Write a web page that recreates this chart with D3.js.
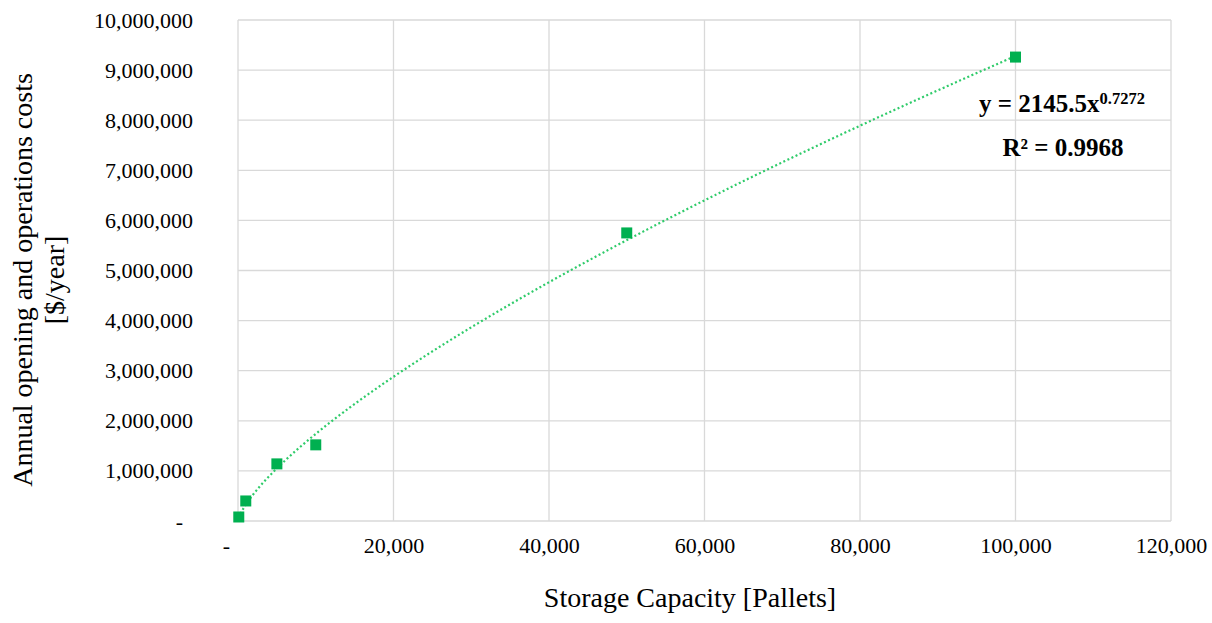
<!DOCTYPE html>
<html>
<head>
<meta charset="utf-8">
<script src="https://cdn.jsdelivr.net/npm/d3@7"></script>
<style>
  body { margin: 0; background: #fff; }
  svg text { font-family: 'Liberation Serif', 'Times New Roman', serif !important; fill: #000; }
</style>
</head>
<body>
<svg width="1212" height="623"></svg>
<script>
// Data
const capacity = [100, 1000, 5000, 10000, 50000, 100000]
const cost = [80000, 400000, 1140000, 1520000, 5750000, 9260000]
const xTicks = [0, 20000, 40000, 60000, 80000, 100000, 120000]
const yTicks = [0, 1e6, 2e6, 3e6, 4e6, 5e6, 6e6, 7e6, 8e6, 9e6, 1e7]
const fitA = 2145.5
const fitB = 0.7272
const fitR2 = '0.9968'

let svg = d3.select('svg')
const margin = { left: 238, right: 41, top: 20, bottom: 102 }
const width = +svg.attr('width')
const height = +svg.attr('height')

const x = d3.scaleLinear().domain([0, 120000]).range([margin.left, width - margin.right])
const y = d3.scaleLinear().domain([0, 1e7]).range([height - margin.bottom, margin.top])

const fmt = d => (d === 0 ? '-' : d3.format(',')(d))
const serif = "'Liberation Serif', 'Times New Roman', serif"

// Gridlines
svg.append('g')
  .selectAll('line.h')
  .data(yTicks)
  .enter()
  .append('line')
  .attr('x1', x(0))
  .attr('x2', x(120000))
  .attr('y1', d => y(d))
  .attr('y2', d => y(d))
  .attr('stroke', '#d9d9d9')
  .attr('stroke-width', 1.3)

svg.append('g')
  .selectAll('line.v')
  .data(xTicks)
  .enter()
  .append('line')
  .attr('x1', d => x(d))
  .attr('x2', d => x(d))
  .attr('y1', y(0))
  .attr('y2', y(1e7))
  .attr('stroke', '#d9d9d9')
  .attr('stroke-width', 1.3)

// Axes (labels only)
const xAxis = d3.axisBottom(x).tickValues(xTicks).tickFormat(fmt).tickSize(0).tickPadding(16)
const gx = svg.append('g')
  .attr('transform', `translate(0, ${y(0)})`)
  .call(xAxis)
  .attr('font-family', serif)
  .attr('font-size', 22)
gx.select('.domain').remove()
gx.selectAll('text')
  .attr('dx', d => (d === 0 ? '-12' : '0'))

const yAxis = d3.axisLeft(y).tickValues(yTicks).tickFormat(fmt).tickSize(0).tickPadding(45)
const gy = svg.append('g')
  .attr('transform', `translate(${x(0)}, 0)`)
  .call(yAxis)
  .attr('font-family', serif)
  .attr('font-size', 22)
gy.select('.domain').remove()
gy.selectAll('text')
  .attr('dx', d => (d === 0 ? '-10' : '0'))

// Trendline y = a * x^b
const fitX = d3.range(100, 100001, 250)
const line = d3.line()
  .x(d => x(d))
  .y(d => y(fitA * Math.pow(d, fitB)))
svg.append('path')
  .datum(fitX)
  .attr('d', line)
  .attr('fill', 'none')
  .attr('stroke', '#2fcb6a')
  .attr('stroke-width', 2.2)
  .attr('stroke-dasharray', '2,2.5')

// Markers
const size = 11
svg.append('g')
  .selectAll('rect')
  .data(capacity)
  .enter()
  .append('rect')
  .attr('x', d => x(d) - size / 2)
  .attr('y', (d, i) => y(cost[i]) - size / 2)
  .attr('width', size)
  .attr('height', size)
  .attr('fill', '#00b050')

// Equation
const eq = svg.append('text')
  .attr('x', 1062)
  .attr('y', 112)
  .attr('text-anchor', 'middle')
  .style('font-size', '25px')
  .style('font-weight', 'bold')
eq.append('tspan').text(`y = ${fitA}x`)
eq.append('tspan').text(fitB).attr('dy', -8).style('font-size', '16.5px')

svg.append('text')
  .attr('x', 1063)
  .attr('y', 156)
  .attr('text-anchor', 'middle')
  .style('font-size', '25px')
  .style('font-weight', 'bold')
  .text(`R² = ${fitR2}`)

// Axis titles
svg.append('text')
  .attr('x', 690)
  .attr('y', 607)
  .attr('text-anchor', 'middle')
  .style('font-size', '28px')
  .text('Storage Capacity [Pallets]')

const yTitle = svg.append('text')
  .attr('transform', 'translate(32, 280) rotate(-90)')
  .attr('text-anchor', 'middle')
  .style('font-size', '28px')
yTitle.append('tspan').attr('x', 0).attr('dy', 0).text('Annual opening and operations costs')
yTitle.append('tspan').attr('x', 0).attr('dy', 32).text('[$/year]')
</script>
</body>
</html>
